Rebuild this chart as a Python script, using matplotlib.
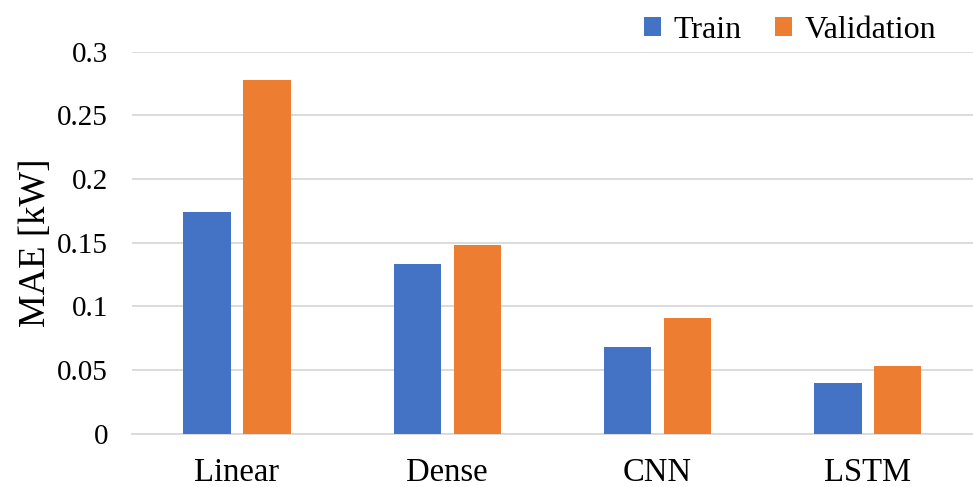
import matplotlib.pyplot as plt
import numpy as np

plt.rcParams['font.family'] = ['Liberation Serif', 'DejaVu Serif']

# MAE per model
models = ["Linear", "Dense", "CNN", "LSTM"]
train_mae = [0.174, 0.133, 0.068, 0.040]
val_mae = [0.278, 0.148, 0.091, 0.053]

blue = "#4472C4"
orange = "#ED7D31"
grid_col = "#D9D9D9"

fig = plt.figure(figsize=(9.73, 4.87), dpi=100)
ax = fig.add_axes([0.1354, 0.1094, 0.8646, 0.7844])

x = np.arange(len(models))
w = 0.225
off = 0.1425
ax.bar(x - off, train_mae, w, color=blue, label="Train", zorder=3)
ax.bar(x + off, val_mae, w, color=orange, label="Validation", zorder=3)

ax.set_xlim(-0.5, len(models) - 0.5)
ax.set_ylim(0, 0.3)
ax.set_yticks([0, 0.05, 0.1, 0.15, 0.2, 0.25, 0.3])
ax.set_yticklabels(["0", "0.05", "0.1", "0.15", "0.2", "0.25", "0.3"])
ax.set_xticks(x)
ax.set_xticklabels(models)
ax.tick_params(axis="both", length=0)
ax.tick_params(axis="y", pad=17, labelsize=21)
ax.tick_params(axis="x", pad=17, labelsize=23.5)

ax.yaxis.grid(True, color=grid_col, linewidth=1.3, zorder=0)
ax.set_axisbelow(True)
for s in ["top", "right", "left"]:
    ax.spines[s].set_visible(False)
ax.spines["bottom"].set_color(grid_col)
ax.spines["bottom"].set_linewidth(1.3)

ax.set_ylabel("MAE [kW]", fontsize=26.5, labelpad=3)

fig.legend(loc="center left", bbox_to_anchor=(0.662, 0.938), ncol=2,
           frameon=False, fontsize=23, handlelength=0.52, handleheight=0.52,
           handletextpad=0.4, columnspacing=1.05, borderpad=0, borderaxespad=0)

fig.savefig("out.png", dpi=100)
